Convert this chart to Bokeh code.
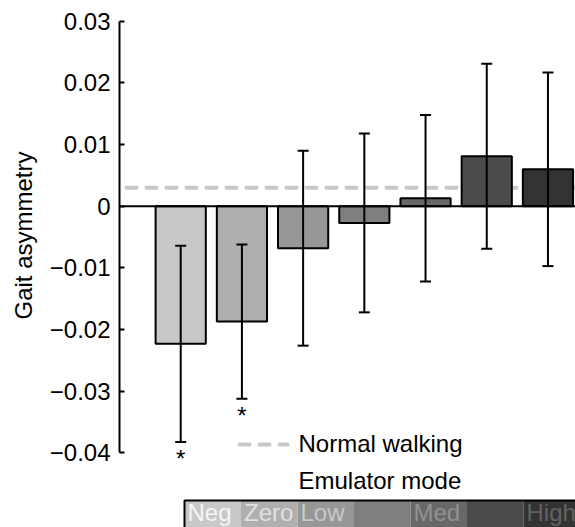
from bokeh.plotting import figure
from bokeh.models import (Range1d, LinearAxis, FixedTicker, CustomJSTickFormatter,
                          Span, Whisker, TeeHead, ColumnDataSource, Title)
from bokeh.core.properties import value
from bokeh.embed import file_html
from bokeh.resources import INLINE

# ---------------- data ----------------
modes = ["Neg", "Zero", "Low", "", "Med", "", "High"]
means = [-0.0223, -0.0187, -0.0068, -0.0027, 0.0013, 0.0081, 0.0060]
errors = [0.0159, 0.0125, 0.0158, 0.0145, 0.0135, 0.0150, 0.0157]
significant = [True, True, False, False, False, False, False]
normal_walking = 0.003
y_ticks = [-0.04, -0.03, -0.02, -0.01, 0.0, 0.01, 0.02, 0.03]
bar_colors = ["#c8c8c8", "#afafaf", "#979797", "#7f7f7f", "#686868", "#4b4b4b", "#333333"]
label_colors = ["#f6f6f6", "#e0e0e0", "#c8c8c8", "#aeaeae", "#929292", "#787878", "#626262"]

FONT = "Liberation Sans"
OFF = 0  # page offset of the figure as observed
W, H = 575, 527
LEFT, TOP = 119, 12
x_start, x_end = 0.0, 7.45
y_start, y_end = -0.05208, 0.03141
FW, FH = W - LEFT, H - TOP


def px_x(page_x):
    return x_start + (page_x - OFF - LEFT) / FW * (x_end - x_start)


def px_y(page_y):
    return y_end - (page_y - OFF - TOP) / FH * (y_end - y_start)


p = figure(width=W, height=H, x_range=Range1d(x_start, x_end), y_range=Range1d(y_start, y_end),
           output_backend="svg", toolbar_location=None, x_axis_location=None, y_axis_location=None,
           min_border_left=LEFT, min_border_right=0, min_border_top=TOP, min_border_bottom=0)
p.outline_line_color = None
p.grid.visible = False
p.background_fill_color = "white"
p.border_fill_color = "white"

cats = list(range(1, len(means) + 1))
src = ColumnDataSource(dict(
    x=cats, top=means, color=bar_colors,
    upper=[m + e for m, e in zip(means, errors)],
    lower=[m - e for m, e in zip(means, errors)],
))

# normal walking reference line (behind bars)
p.add_layout(Span(location=normal_walking, dimension="width", line_color="#c8c8c8", line_width=4,
                  line_dash="10 10", line_cap="round", line_dash_offset=13, level="underlay"))

p.vbar(x="x", top="top", bottom=0, width=0.82, fill_color="color", line_color="black",
       line_width=2, source=src)

p.add_layout(Span(location=0, dimension="width", line_color="black", line_width=2))

p.add_layout(Whisker(base="x", upper="upper", lower="lower", source=src, line_width=2,
                     line_color="black", level="annotation",
                     upper_head=TeeHead(size=11, line_width=2, line_color="black"),
                     lower_head=TeeHead(size=11, line_width=2, line_color="black")))

# significance asterisks
sig_x = [c for c, s in zip(cats, significant) if s]
sig_y = [m - e for m, e, s in zip(means, errors, significant) if s]
p.text(x=sig_x, y=sig_y, text=["*"] * len(sig_x), y_offset=17, text_align="center",
       text_baseline="alphabetic", text_font=value(FONT), text_font_size="24px", text_color="black")

# y axis (line and ticks only between -0.04 and 0.03)
ax = LinearAxis(bounds=(-0.04, 0.03), ticker=FixedTicker(ticks=y_ticks, minor_ticks=[]),
                formatter=CustomJSTickFormatter(
                    code="return tick == 0 ? '0' : tick.toFixed(2).replace('-', '\u2212');"),
                axis_line_width=2, axis_line_color="black",
                major_tick_in=5, major_tick_out=0, major_tick_line_width=2,
                major_tick_line_color="black", minor_tick_line_color=None,
                major_label_text_font=FONT, major_label_text_font_size="24px",
                major_label_text_color="black", major_label_standoff=9)
p.add_layout(ax, "left")

# axis title placed as a side title, its top end positioned to centre it on the axis span
p.add_layout(Title(text="Gait asymmetry", align="right", offset=139, standoff=16,
                   vertical_align="top",
                   text_font=FONT, text_font_size="24px", text_font_style="normal",
                   text_color="black"), "left")

# legend
p.segment(x0=[px_x(239)], x1=[px_x(287)], y0=[px_y(444)], y1=[px_y(444)], line_color="#c8c8c8",
          line_width=4, line_dash="10 10", line_cap="round")
p.text(x=[px_x(298)] * 2, y=[px_y(443.3), px_y(480)], text=["Normal walking", "Emulator mode"],
       text_align="left", text_baseline="alphabetic", text_font=value(FONT),
       text_font_size="24px", text_color="black")

# emulator mode colour strip
seg_w = 56.5
seg_left = [px_x(184 + seg_w * i) for i in range(len(modes))]
seg_right = [px_x(184 + seg_w * (i + 1)) for i in range(len(modes))]
strip_top = px_y(500)
p.quad(left=seg_left, right=seg_right, top=[strip_top] * len(modes), bottom=[y_start - 0.01] * len(modes),
       fill_color=bar_colors, line_color=None)
p.quad(left=[seg_left[0]], right=[x_end + 1], top=[strip_top], bottom=[y_start - 0.01],
       fill_color=None, line_color="black", line_width=2)
p.text(x=seg_left, y=[px_y(511.5)] * len(modes), text=modes, x_offset=3, text_align="left",
       text_baseline="alphabetic", text_font=value(FONT), text_font_size="24px",
       text_color=label_colors)

open("out.html", "w").write(file_html(p, INLINE))
